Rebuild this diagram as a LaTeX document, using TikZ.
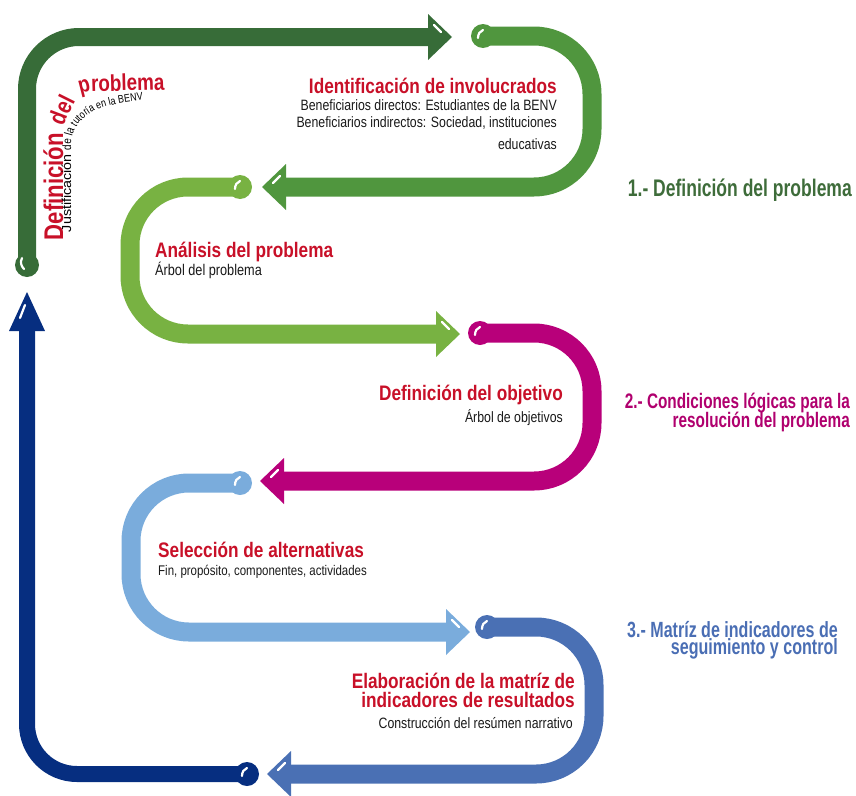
\documentclass[tikz,border=0pt]{standalone}
\usepackage{fontspec}
\setmainfont{Liberation Sans}[FakeStretch=0.82]
\newfontfamily\condfont{Liberation Sans}[FakeStretch=0.73]
\newfontfamily\widefont{Liberation Sans}[FakeStretch=1.1]
\usetikzlibrary{decorations.text}
\definecolor{dgcol}{RGB}{55,108,56}
\definecolor{gcol}{RGB}{80,150,62}
\definecolor{lgcol}{RGB}{120,178,66}
\definecolor{mcol}{RGB}{184,0,122}
\definecolor{lbcol}{RGB}{122,172,220}
\definecolor{bcol}{RGB}{74,112,180}
\definecolor{ncol}{RGB}{6,46,128}
\definecolor{txtred}{RGB}{200,16,40}
\definecolor{labgreen}{RGB}{62,108,58}
\definecolor{labmag}{RGB}{176,0,110}
\definecolor{labblue}{RGB}{74,110,180}
\newcommand\fA{\fontsize{27}{27}\selectfont\bfseries\color{txtred}}
\newcommand\fB{\fontsize{24}{24}\selectfont\bfseries\color{txtred}}
\newcommand\fD{\fontsize{36}{36}\selectfont\bfseries\color{txtred}}
\newcommand\fC{\fontsize{23}{23}\selectfont\bfseries\color{txtred}}
\newcommand\jA{\widefont\fontsize{13}{13}\selectfont\color{black}}
\newcommand\jB{\fontsize{12}{12}\selectfont\color{black}}
\newcommand\jC{\fontsize{11}{11}\selectfont\color{black}}
\tikzset{
  band/.style={line width=19pt, rounded corners=58pt},
  hl/.style={white, line width=2.2pt, line cap=round},
  ttl/.style={text=txtred, font=\fontsize{21}{21}\selectfont\bfseries, inner sep=0pt},
  sub/.style={text=black!90, font=\fontsize{15}{15}\selectfont, inner sep=0pt},
  lab/.style={font=\condfont\bfseries\fontsize{22}{22}\selectfont, inner sep=0pt, anchor=base east},
}
\begin{document}
\begin{tikzpicture}[x=1pt,y=-1pt]
\useasboundingbox (0,0) rectangle (856,795);
% ---------- dark green: definition of the problem
\draw[band, dgcol, line width=18pt, rounded corners=52pt] (27,265) -- (27,37) -- (432,37);
\fill[dgcol] (452,37) -- (428,14) -- (428,60) -- cycle;
\fill[dgcol] (27,265) circle[radius=12pt];
\draw[hl] (22,258) .. controls (20,262) and (21,266) .. (24,269);
\draw[hl] (434,25) -- (441,32);
% ---------- green
\draw[band, gcol] (483,36) -- (592,36) -- (592,187) -- (284,187);
\fill[gcol] (262,187) -- (286,164) -- (286,210) -- cycle;
\fill[gcol] (483,36) circle[radius=12pt];
\draw[hl] (478,38) .. controls (478,34) and (480,31) .. (483,30);
\draw[hl] (280,176) -- (273,183);
% ---------- light green
\draw[band, lgcol] (240,187) -- (130,187) -- (130,334) -- (438,334);
\fill[lgcol] (460,334) -- (436,311) -- (436,357) -- cycle;
\fill[lgcol] (240,187) circle[radius=12pt];
\draw[hl] (235,189) .. controls (235,185) and (237,182) .. (240,181);
\draw[hl] (442,322) -- (449,329);
% ---------- magenta
\draw[band, mcol] (480,333) -- (592,333) -- (592,481) -- (282,481);
\fill[mcol] (260,481) -- (284,458) -- (284,504) -- cycle;
\fill[mcol] (480,333) circle[radius=12pt];
\draw[hl] (475,335) .. controls (475,331) and (477,328) .. (480,327);
\draw[hl] (278,470) -- (271,477);
% ---------- light blue
\draw[band, lbcol] (240,483) -- (131,483) -- (131,632) -- (448,632);
\fill[lbcol] (470,632) -- (446,609) -- (446,655) -- cycle;
\fill[lbcol] (240,483) circle[radius=12pt];
\draw[hl] (235,485) .. controls (235,481) and (237,478) .. (240,477);
\draw[hl] (452,620) -- (459,627);
% ---------- blue
\draw[band, bcol] (487,627) -- (594,627) -- (594,774) -- (289,774);
\fill[bcol] (267,774) -- (291,751) -- (291,797) -- cycle;
\fill[bcol] (487,627) circle[radius=12pt];
\draw[hl] (482,629) .. controls (482,625) and (484,622) .. (487,621);
\draw[hl] (285,763) -- (278,770);
% ---------- navy
\draw[band, ncol, line width=16pt, rounded corners=50pt] (247,774) -- (27,774) -- (27,326);
\fill[ncol] (27,292) -- (9,331) -- (45,331) -- cycle;
\fill[ncol] (247,774) circle[radius=12pt];
\draw[hl] (242,776) .. controls (242,772) and (244,769) .. (247,768);
\draw[hl] (25,305) -- (20,318);
% ---------- curved title
\path[decorate, decoration={text along path, text align=left,
   text={|\fA|Definición |\fB|del|\fD| |\fC|problema}}]
   [rounded corners=8pt] (63,240) -- (63,126) -- (80,92) -- (200,89);
\path[decorate, decoration={text along path, text align=left,
   text={|\jA|Justificación |\jB|de la |\jC|tutoría en la BENV}}]
   (71,232) -- (71,146) .. controls (71,130) and (80,118) .. (96,110)
   .. controls (110,104) and (130,100) .. (190,97);
% ---------- texts
\node[ttl, anchor=base east] (idt) at (557,93) {Identificación de involucrados};
\node[sub, anchor=base east] (ids1) at (557,110) {Beneficiarios directos: Estudiantes de la BENV};
\node[sub, anchor=base east] (ids2) at (557,127) {Beneficiarios indirectos: Sociedad, instituciones};
\node[sub, anchor=base east] (ids3) at (557,149) {educativas};
\node[ttl, anchor=base west] (ant) at (155,257) {Análisis del problema};
\node[sub, anchor=base west, font=\fontsize{15.5}{15.5}\selectfont] (ans) at (155,275) {Árbol del problema};
\node[ttl, anchor=base east] (objt) at (563,400) {Definición del objetivo};
\node[sub, anchor=base east] (objs) at (563,422) {Árbol de objetivos};
\node[ttl, anchor=base west] (selt) at (158,557) {Selección de alternativas};
\node[sub, anchor=base west, font=\fontsize{14}{14}\selectfont] (sels) at (158,575) {Fin, propósito, componentes, actividades};
\node[ttl, anchor=base east] (elt1) at (575,688) {Elaboración de la matríz de};
\node[ttl, anchor=base east] (elt2) at (575,707) {indicadores de resultados};
\node[sub, anchor=base east] (els) at (573,728) {Construcción del resúmen narrativo};
% ---------- right labels
\node[lab, text=labgreen, font=\condfont\bfseries\fontsize{24}{24}\selectfont] (lab1) at (852,196) {1.- Definición del problema};
\node[lab, text=labmag, font=\condfont\bfseries\fontsize{21}{21}\selectfont] (lab2a) at (850,408) {2.- Condiciones lógicas para la};
\node[lab, text=labmag, font=\condfont\bfseries\fontsize{21}{21}\selectfont] (lab2b) at (850,427) {resolución del problema};
\node[lab, text=labblue] (lab3a) at (838,637) {3.- Matríz de indicadores de};
\node[lab, text=labblue] (lab3b) at (838,654) {seguimiento y control};
\end{tikzpicture}
\end{document}
